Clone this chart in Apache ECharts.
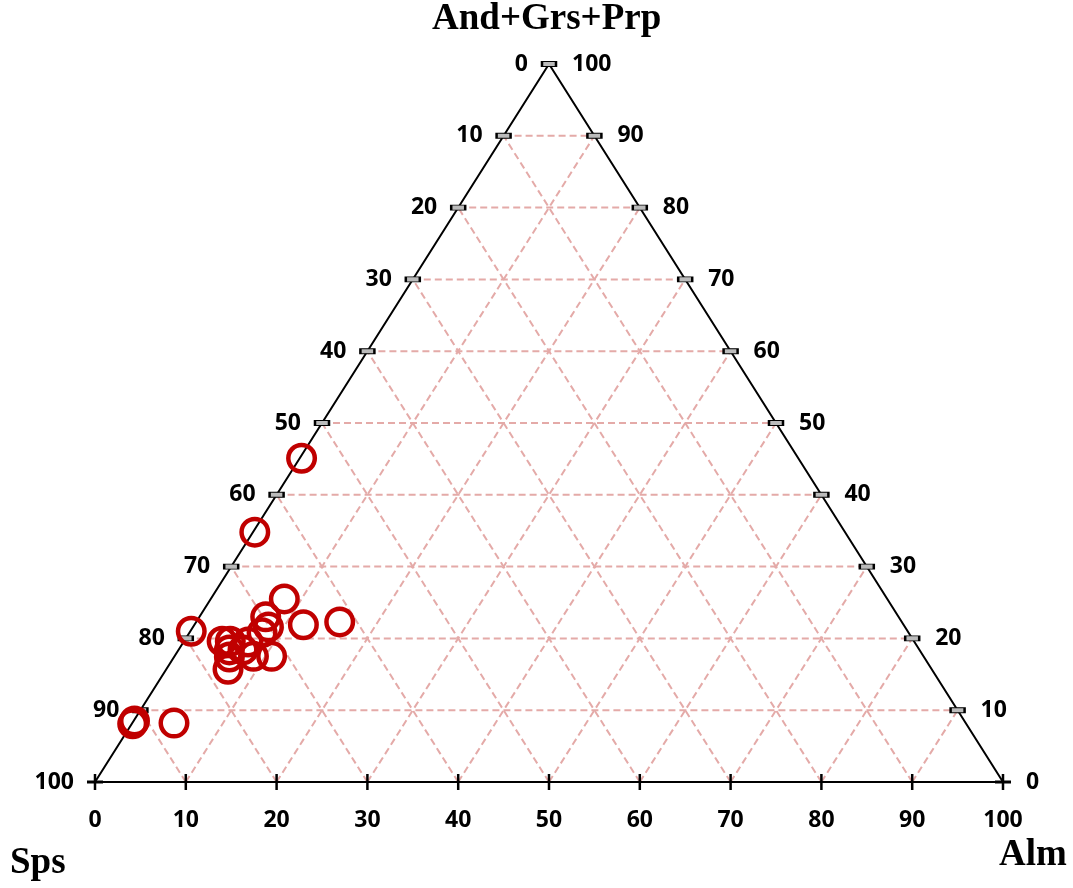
<!DOCTYPE html>
<html>
<head>
<meta charset="utf-8">
<script src="https://cdn.jsdelivr.net/npm/echarts@6/dist/echarts.min.js"></script>
<style>html,body{margin:0;padding:0;background:#fff}#c{width:1073px;height:888px}</style>
</head>
<body>
<div id="c"></div>
<script>
// Ternary data: And+Grs+Prp (top), Alm (bottom-right), Sps (bottom-left), in %
const agp = [45.1, 34.8, 25.5, 23.0, 22.3, 21.9, 21.6, 20.8, 21.0, 19.6, 19.6, 19.5, 18.4, 18.4, 17.5, 17.5, 17.4, 15.7, 8.5, 8.1, 8.2];
const alm = [0.2, 0.2, 8.1, 7.3, 15.8, 12.0, 8.3, 8.0, 0.1, 4.2, 5.1, 7.1, 7.1, 5.6, 10.7, 8.7, 6.1, 6.8, 0.1, 0.1, 4.6];
const sps = [54.7, 65.0, 66.4, 69.7, 61.9, 66.1, 70.1, 71.2, 78.9, 76.2, 75.3, 73.4, 74.5, 76.0, 71.8, 73.8, 76.5, 77.5, 91.4, 91.8, 87.2];
const ticks = [0, 10, 20, 30, 40, 50, 60, 70, 80, 90, 100];
const axisNames = ['And+Grs+Prp', 'Alm', 'Sps'];

// ternary -> cartesian (x: 0..100 along base, y: 0..100 height)
function tern(t, a) { return [a + t / 2, t]; }

const points = agp.map((t, i) => tern(t, alm[i]));
const inner = ticks.filter(v => v > 0 && v < 100);

const series = [];
const gridStyle = { color: '#e4aaa8', width: 2, type: [7, 4] };
inner.forEach(k => series.push({ type: 'line', data: [tern(k, 0), tern(k, 100 - k)], symbol: 'none', lineStyle: gridStyle, silent: true, z: 1 }));
inner.forEach(k => series.push({ type: 'line', data: [tern(0, k), tern(100 - k, k)], symbol: 'none', lineStyle: gridStyle, silent: true, z: 1 }));
inner.forEach(k => series.push({ type: 'line', data: [tern(0, 100 - k), tern(100 - k, 0)], symbol: 'none', lineStyle: gridStyle, silent: true, z: 1 }));
series.push({ type: 'line', data: [tern(0, 0), tern(0, 100), tern(100, 0), tern(0, 0)], symbol: 'none', lineStyle: { color: '#000', width: 2 }, silent: true, z: 2 });

const lblFont = { fontFamily: 'Open Sans', fontWeight: 'bold', fontSize: 23, color: '#000', opacity: 1 };
const edgeTicks = ticks.filter(v => v > 0);
series.push({ type: 'scatter', data: edgeTicks.map(k => tern(k, 0)).concat(edgeTicks.filter(k => k < 100).map(k => tern(k, 100 - k))),
  symbol: 'rect', symbolSize: [14, 5], itemStyle: { color: '#bbbbbb', borderColor: '#000', borderWidth: 1.5, opacity: 1 }, silent: true, z: 3 });
series.push({ type: 'scatter', data: ticks.map(k => tern(0, k)), symbol: 'rect', symbolSize: [2.5, 16], itemStyle: { color: '#000', opacity: 1 }, silent: true, z: 3 });
series.push({ type: 'scatter', data: [tern(0, 0), tern(0, 100)], symbol: 'rect', symbolSize: [16, 3], itemStyle: { color: '#000', opacity: 1 }, silent: true, z: 3 });

const lblItem = { opacity: 1, color: '#000' };
series.push({ type: 'scatter', data: ticks.map(k => ({ value: tern(k, 0), name: String(100 - k) })), symbolSize: 0, silent: true, itemStyle: lblItem,
  label: Object.assign({ show: true, position: 'left', distance: 21, formatter: p => p.name }, lblFont) });
series.push({ type: 'scatter', data: ticks.map(k => ({ value: tern(k, 100 - k), name: String(k) })), symbolSize: 0, silent: true, itemStyle: lblItem,
  label: Object.assign({ show: true, position: 'right', distance: 23, formatter: p => p.name }, lblFont) });
series.push({ type: 'scatter', data: ticks.map(k => ({ value: tern(0, k), name: String(k) })), symbolSize: 0, silent: true, itemStyle: lblItem,
  label: Object.assign({ show: true, position: 'bottom', distance: 27, formatter: p => p.name }, lblFont) });

series.push({ type: 'scatter', data: points, symbol: 'circle', symbolSize: 26.5,
  itemStyle: { color: 'rgba(255,255,255,0)', borderColor: '#c00000', borderWidth: 4.5, opacity: 1 }, z: 5 });

const titleFont = { fontFamily: 'Liberation Serif', fontWeight: 'bold', fontSize: 37, fill: '#000' };
const chart = echarts.init(document.getElementById('c'));
chart.setOption({
  animation: false,
  grid: { left: 95, top: 64, width: 908, height: 718 },
  xAxis: { type: 'value', min: 0, max: 100, show: false },
  yAxis: { type: 'value', min: 0, max: 100, show: false },
  graphic: [
    { type: 'text', left: 432, top: 1, style: Object.assign({ text: axisNames[0] }, titleFont) },
    { type: 'text', left: 999, top: 837, style: Object.assign({ text: axisNames[1] }, titleFont) },
    { type: 'text', left: 10, top: 845, style: Object.assign({ text: axisNames[2] }, titleFont) }
  ],
  series: series
});
</script>
</body>
</html>
